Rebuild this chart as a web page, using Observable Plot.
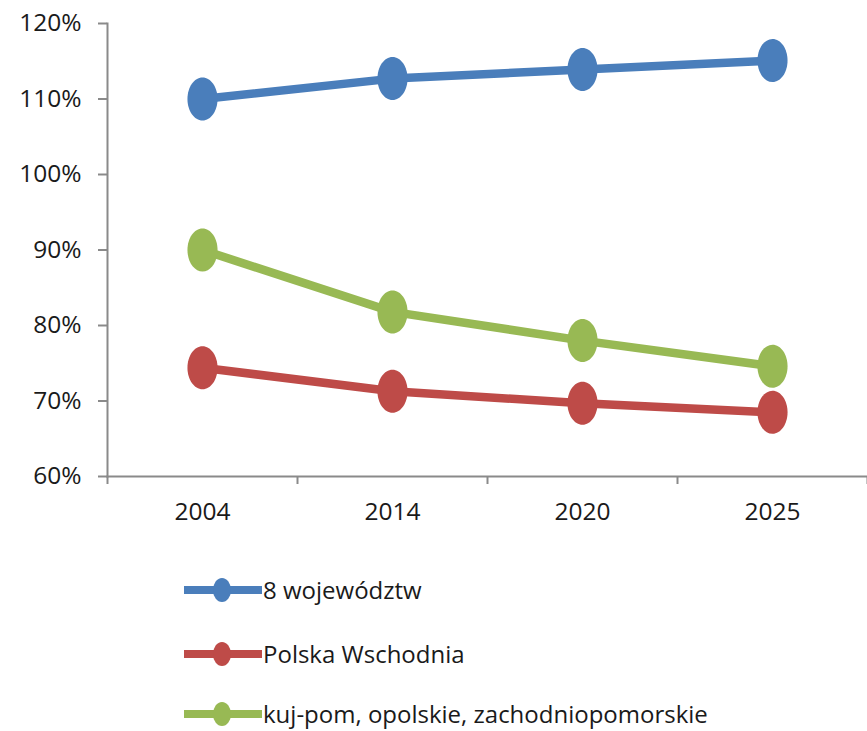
<!DOCTYPE html>
<html>
<head>
<meta charset="utf-8">
<script src="https://cdn.jsdelivr.net/npm/d3@7"></script>
<script src="https://cdn.jsdelivr.net/npm/@observablehq/plot@0.6"></script>
<style>
  body { margin: 0; background: #fff; font-family: "Open Sans", "Liberation Sans", sans-serif; overflow: hidden; }
  #chart svg { display: block; }
  .legend { position: relative; width: 867px; height: 184px; }
  .row { position: absolute; left: 184px; display: flex; align-items: center; font-size: 24px; line-height: 28px; color: #1a1a1a; white-space: nowrap; }
  .row svg { display: block; margin-right: 1px; }
</style>
</head>
<body>
<div id="chart"></div>
<div class="legend" id="legend"></div>
<script>
const years = ["2004", "2014", "2020", "2025"];
const seriesNames = ["8 województw", "Polska Wschodnia", "kuj-pom, opolskie, zachodniopomorskie"];
const seriesColors = ["#4A7EBB", "#BE4B48", "#98B954"];
const wojewodztw8 = [110.0, 112.7, 113.9, 115.1];
const polskaWschodnia = [74.4, 71.3, 69.7, 68.5];
const kujPom = [90.0, 81.8, 78.0, 74.6];
const yTicks = [60, 70, 80, 90, 100, 110, 120];

const seriesValues = [wojewodztw8, polskaWschodnia, kujPom];
const data = [];
seriesNames.forEach((name, i) => {
  years.forEach((y, j) => data.push({series: name, year: y, value: seriesValues[i][j]}));
});

// ellipse marker (taller than wide, as in the reference)
const ellipse = {
  draw(context, size) {
    const r = Math.sqrt(size / Math.PI);
    const ry = r, rx = r * 0.7, k = 0.5523;
    context.moveTo(rx, 0);
    context.bezierCurveTo(rx, k * ry, k * rx, ry, 0, ry);
    context.bezierCurveTo(-k * rx, ry, -rx, k * ry, -rx, 0);
    context.bezierCurveTo(-rx, -k * ry, -k * rx, -ry, 0, -ry);
    context.bezierCurveTo(k * rx, -ry, rx, -k * ry, rx, 0);
    context.closePath();
  }
};

const axisColor = "#8a8a8a";
const plot = Plot.plot({
  width: 867,
  height: 545,
  marginLeft: 107,
  marginRight: 0,
  marginTop: 23,
  marginBottom: 69,
  style: {fontFamily: "'Open Sans', 'Liberation Sans', sans-serif", fontSize: "24.5px", color: "#1a1a1a", background: "#fff"},
  x: {type: "point", domain: years, padding: 0.5, label: null},
  y: {domain: [60, 120], label: null},
  color: {domain: seriesNames, range: seriesColors},
  marks: [
    Plot.frame({anchor: "left", stroke: axisColor, strokeWidth: 2, strokeOpacity: 1}),
    Plot.frame({anchor: "bottom", stroke: axisColor, strokeWidth: 2, strokeOpacity: 1}),
    Plot.axisY({ticks: yTicks, tickFormat: d => d + "%", tickSize: 9, tickPadding: 17, stroke: axisColor, strokeWidth: 2, strokeOpacity: 1, label: null}),
    Plot.axisX({tickSize: 0, tickPadding: 26, label: null}),
    Plot.axisX({tickSize: 8, tickFormat: () => "", dx: 95, stroke: axisColor, strokeWidth: 2, strokeOpacity: 1, label: null}),
    Plot.axisX({ticks: [years[0]], tickSize: 8, tickFormat: () => "", dx: -95, stroke: axisColor, strokeWidth: 2, strokeOpacity: 1, label: null}),
    Plot.line(data, {x: "year", y: "value", z: "series", stroke: "series", strokeWidth: 8.5, strokeLinecap: "butt"}),
    Plot.dot(data, {x: "year", y: "value", fill: "series", r: 21.5, symbol: ellipse, stroke: "none"})
  ]
});
document.getElementById("chart").appendChild(plot);

// legend
const legend = document.getElementById("legend");
const rowTops = [31, 95, 155];
seriesNames.forEach((name, i) => {
  const row = document.createElement("div");
  row.className = "row";
  row.style.top = rowTops[i] + "px";
  row.style.height = "28px";
  row.innerHTML = `<svg width="78" height="28"><line x1="1" x2="77" y1="14" y2="14" stroke="${seriesColors[i]}" stroke-width="8" stroke-linecap="round"/><ellipse cx="38" cy="14" rx="9" ry="12" fill="${seriesColors[i]}"/></svg><span>${name}</span>`;
  legend.appendChild(row);
});
</script>
</body>
</html>
